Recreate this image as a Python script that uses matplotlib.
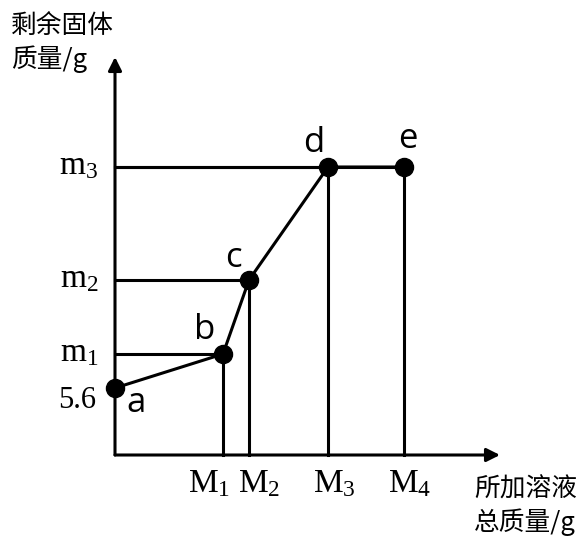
import matplotlib.pyplot as plt

plt.rcParams['mathtext.fontset'] = 'custom'
plt.rcParams['mathtext.rm'] = 'Liberation Serif'
plt.rcParams['mathtext.it'] = 'Liberation Serif:italic'

# points a..e (x = total mass of solution added, y = remaining solid mass), chart units
point_names = ['a', 'b', 'c', 'd', 'e']
x_vals = [0, 108, 134, 213, 289]
y_vals = [67, 101, 175, 288, 288]
x_ticklabels = ['$\\mathrm{M}_1$', '$\\mathrm{M}_2$', '$\\mathrm{M}_3$', '$\\mathrm{M}_4$']
y_ticklabels = ['5.6', '$\\mathrm{m}_1$', '$\\mathrm{m}_2$', '$\\mathrm{m}_3$']

fig = plt.figure(figsize=(5.87, 5.37), dpi=100)
ax = fig.add_axes([0, 0, 1, 1])
ax.set_xlim(-115, 472)
ax.set_ylim(-82, 455)
ax.axis('off')

lw = 2.2
# axes with arrows
ax.annotate('', xy=(385, 0), xytext=(0, 0),
            arrowprops=dict(arrowstyle='-|>', lw=lw, color='black', mutation_scale=20, shrinkA=0, shrinkB=0))
ax.annotate('', xy=(0, 398), xytext=(0, 0),
            arrowprops=dict(arrowstyle='-|>', lw=lw, color='black', mutation_scale=20, shrinkA=0, shrinkB=0))

# guide lines
for i in range(1, 5):
    ax.plot([x_vals[i], x_vals[i]], [0, y_vals[i]], color='black', lw=lw)
for i in range(1, 5):
    ax.plot([0, x_vals[i]], [y_vals[i], y_vals[i]], color='black', lw=lw)

ax.plot(x_vals, y_vals, color='black', lw=lw, zorder=3)
ax.plot(x_vals, y_vals, 'o', color='black', markersize=13, zorder=4)

# point letters
offsets = [(21, -15), (-18, 24), (-16, 22), (-14, 24), (4, 28)]
for n, x, y, (dx, dy) in zip(point_names, x_vals, y_vals, offsets):
    ax.text(x + dx, y + dy, n, fontsize=25, family='Open Sans', ha='center', va='center')

# tick labels
ax.text(-38, y_vals[0] - 12, y_ticklabels[0], fontsize=22, family='Liberation Serif', ha='center', va='center')
for lab, y in zip(y_ticklabels[1:], [y_vals[1], y_vals[2], y_vals[3]]):
    ax.text(-36, y + 2, lab, fontsize=24, ha='center', va='center')
x_pos = [x_vals[1] - 14, x_vals[2] + 10, x_vals[3] + 6, x_vals[4] + 6]
for lab, x in zip(x_ticklabels, x_pos):
    ax.text(x, -28, lab, fontsize=24, ha='center', va='center')

# axis titles
cjk = ['Noto Sans CJK SC', 'DejaVu Sans']
ax.text(-104, 412, '剩余固体\n质量/g', fontsize=18.5, family=cjk, ha='left', va='center', linespacing=1.28)
ax.text(359, -51, '所加溶液\n总质量/g', fontsize=18.5, family=cjk, ha='left', va='center', linespacing=1.28)

fig.savefig('out.png', dpi=100)
